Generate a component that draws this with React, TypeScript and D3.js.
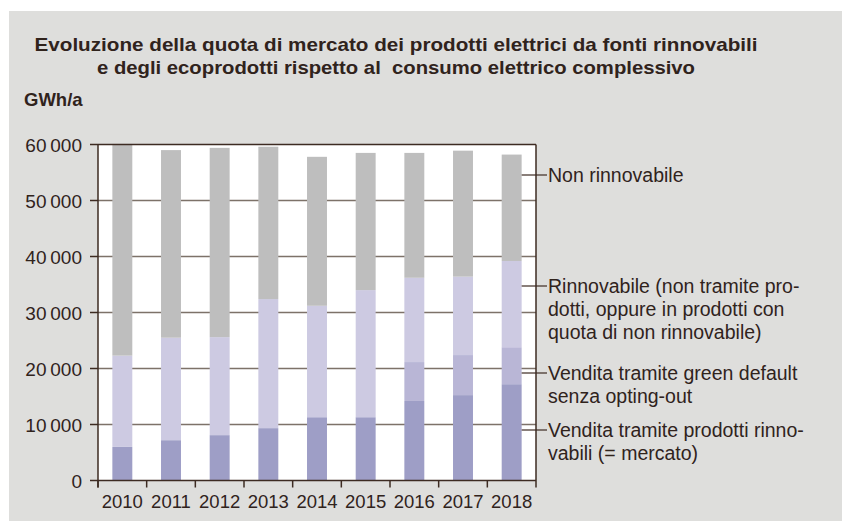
import React from "react";
import * as d3 from "d3";

// values in GWh/a
const years = ["2010", "2011", "2012", "2013", "2014", "2015", "2016", "2017", "2018"];
const mercato = [6000, 7200, 8100, 9350, 11300, 11300, 14200, 15250, 17200];
const greenDefault = [0, 0, 0, 0, 0, 0, 6950, 7150, 6600];
const rinnovabileAltro = [16300, 18300, 17500, 23050, 19900, 22700, 15050, 14000, 15400];
const nonRinnovabile = [37800, 33500, 33800, 27200, 26600, 24500, 22300, 22500, 19000];
const yTicks = [0, 10000, 20000, 30000, 40000, 50000, 60000];

const seriesKeys = ["mercato", "greenDefault", "rinnovabileAltro", "nonRinnovabile"];
const seriesColors = ["#9e9ec6", "#b9b6d6", "#cdcae2", "#bebebe"];

// legend labels, one array of lines per series (top to bottom)
const legendLines = [
  ["Non rinnovabile"],
  ["Rinnovabile (non tramite pro-", "dotti, oppure in prodotti con", "quota di non rinnovabile)"],
  ["Vendita tramite green default", "senza opting-out"],
  ["Vendita tramite prodotti rinno-", "vabili (= mercato)"],
];
const legendY = [175, 286, 373, 430];

const titleLines = [
  "Evoluzione della quota di mercato dei prodotti elettrici da fonti rinnovabili",
  "e degli ecoprodotti rispetto al  consumo elettrico complessivo",
];
const titleWidths = [723, 598];

const width = 842;
const height = 524;
const margin = { top: 144.5, right: 306, bottom: 44, left: 98 };
const textColor = "#30231c";
const font = "'Liberation Sans', Arial, sans-serif";

const locale = d3.formatLocale({
  decimal: ",",
  thousands: "\u2009",
  grouping: [3],
  currency: ["", ""],
});
const fmt = locale.format(",");

const App = () => {
  const data = years.map((y, i) => ({
    year: y,
    mercato: mercato[i],
    greenDefault: greenDefault[i],
    rinnovabileAltro: rinnovabileAltro[i],
    nonRinnovabile: nonRinnovabile[i],
  }));

  const stacked = d3.stack<any>().keys(seriesKeys)(data);

  const x0 = margin.left;
  const x1 = width - margin.right; // 536
  const yBottom = 480.5;

  const x = d3
    .scaleBand()
    .domain(years)
    .range([x0, x1])
    .paddingInner(0.59)
    .paddingOuter(0.295);

  const y = d3.scaleLinear().domain([0, 60000]).range([yBottom, margin.top]);

  const step = x.step();
  const lastBarRight = (x(years[years.length - 1]) as number) + x.bandwidth();

  return (
    <svg width={width} height={height} style={{ display: "block", position: "absolute", left: 0, top: 0 }}>
      <rect x={9} y={11} width={width - 9} height={510} fill="#dededc" />

      {titleLines.map((t, i) => (
        <text
          key={i}
          x={396}
          y={51 + i * 23}
          textAnchor="middle"
          fontFamily={font}
          fontWeight="bold"
          fontSize={18.5}
          fill={textColor}
          textLength={titleWidths[i]}
          lengthAdjust="spacingAndGlyphs"
          style={{ whiteSpace: "pre" }}
        >
          {t}
        </text>
      ))}

      <text x={24} y={106} fontFamily={font} fontWeight="bold" fontSize={18.5} fill={textColor}>
        GWh/a
      </text>

      {/* plot area */}
      <rect x={x0} y={margin.top} width={x1 - x0} height={yBottom - margin.top} fill="#ffffff" />

      {/* grid lines */}
      {yTicks.slice(1, -1).map((t) => (
        <line key={t} x1={x0} x2={x1} y1={y(t)} y2={y(t)} stroke="#7d7269" strokeWidth={1.5} />
      ))}

      {/* bars */}
      {stacked.map((s, si) => (
        <g key={s.key} fill={seriesColors[si]}>
          {s.map((d, i) =>
            d[1] - d[0] > 0 ? (
              <rect
                key={i}
                x={x(years[i])}
                y={y(d[1])}
                width={x.bandwidth()}
                height={y(d[0]) - y(d[1])}
              />
            ) : null
          )}
        </g>
      ))}

      {/* frame */}
      <line x1={x0} x2={x1} y1={margin.top} y2={margin.top} stroke="#3d2b22" strokeWidth={1.5} />
      <line x1={x1} x2={x1} y1={margin.top} y2={yBottom + 7} stroke="#3d2b22" strokeWidth={1.5} />
      <line x1={x0} x2={x0} y1={margin.top} y2={yBottom + 7} stroke="#3d2b22" strokeWidth={1.5} />
      <line x1={x0} x2={x1} y1={yBottom} y2={yBottom} stroke="#3d2b22" strokeWidth={1.5} />

      {/* y ticks and labels */}
      {yTicks.map((t) => (
        <g key={t}>
          <line x1={x0 - 8} x2={x0} y1={y(t)} y2={y(t)} stroke="#3d2b22" strokeWidth={1.5} />
          <text
            x={82}
            y={y(t) + 7}
            textAnchor="end"
            fontFamily={font}
            fontSize={19}
            fill={textColor}
          >
            {fmt(t)}
          </text>
        </g>
      ))}

      {/* x ticks and labels */}
      {years.map((yr, i) => (
        <g key={yr}>
          <line
            x1={x0 + i * step}
            x2={x0 + i * step}
            y1={yBottom}
            y2={yBottom + 7}
            stroke="#3d2b22"
            strokeWidth={1.5}
          />
          <text
            x={(x(yr) as number) + x.bandwidth() / 2}
            y={508}
            textAnchor="middle"
            fontFamily={font}
            fontSize={18.5}
            fill={textColor}
          >
            {yr}
          </text>
        </g>
      ))}

      {/* legend with leader lines */}
      {legendLines.map((lines, li) => (
        <g key={li}>
          <line
            x1={lastBarRight}
            x2={547}
            y1={legendY[li]}
            y2={legendY[li]}
            stroke="#3d2b22"
            strokeWidth={1.2}
          />
          {lines.map((ln, j) => (
            <text
              key={j}
              x={548}
              y={legendY[li] + 7 + j * 23}
              fontFamily={font}
              fontSize={19.5}
              fill={textColor}
            >
              {ln}
            </text>
          ))}
        </g>
      ))}
    </svg>
  );
};

export default App;
